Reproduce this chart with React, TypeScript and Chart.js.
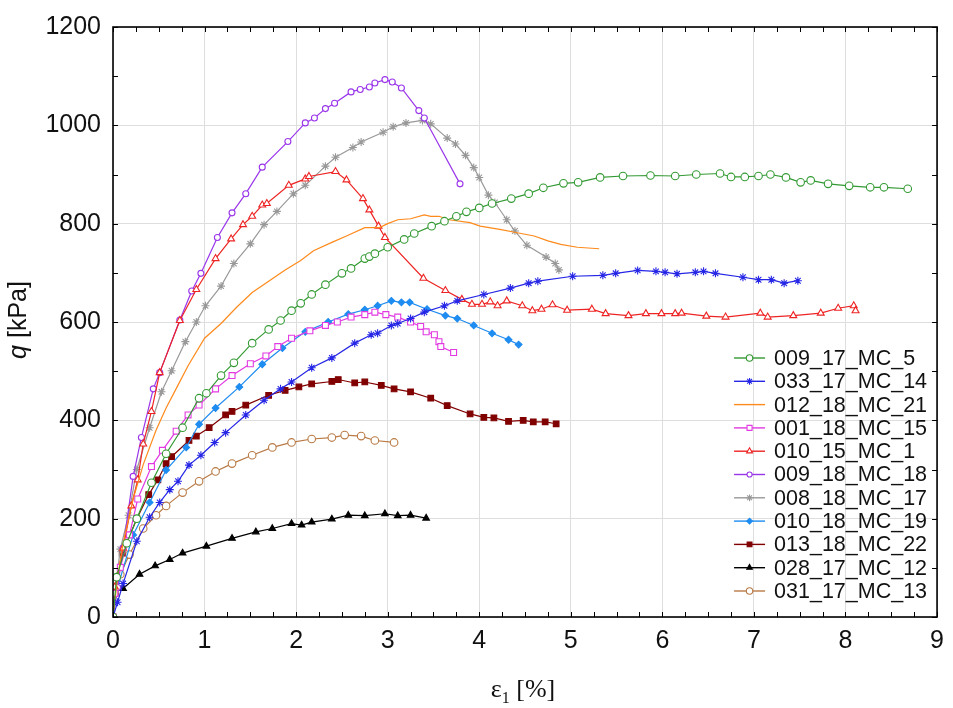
import { useEffect, useRef } from "react";
import { Chart, ChartDataset, Plugin, registerables } from "chart.js";
import { drawPoint } from "chart.js/helpers";

Chart.register(...registerables);

type Pt = [number, number];

// strain eps1 [%], deviator stress q [kPa]
const s009_17_MC_5: Pt[] = [
  [0, 0], [0.04, 81], [0.15, 150], [0.26, 200], [0.42, 273], [0.58, 332], [0.76, 385], [0.94, 445],
  [1.02, 455], [1.18, 491], [1.32, 517], [1.52, 557], [1.7, 585], [1.83, 603], [1.95, 623], [2.05, 638],
  [2.17, 656], [2.32, 676], [2.5, 699], [2.6, 709], [2.75, 729], [2.8, 733], [2.86, 739], [3.0, 752],
  [3.18, 768], [3.29, 780], [3.48, 795], [3.62, 805], [3.75, 815], [3.86, 824], [4.0, 832], [4.14, 841],
  [4.35, 851], [4.54, 861], [4.7, 873], [4.92, 882], [5.08, 884], [5.32, 894], [5.57, 897], [5.87, 898],
  [6.14, 897], [6.37, 900], [6.63, 902], [6.75, 895], [6.9, 895], [7.05, 897], [7.18, 900], [7.35, 894],
  [7.51, 884], [7.62, 888], [7.81, 881], [8.04, 877], [8.27, 874], [8.42, 874], [8.68, 871],
];
const s033_17_MC_14: Pt[] = [
  [0, 0], [0.05, 30], [0.11, 68], [0.26, 154], [0.4, 203], [0.51, 233], [0.62, 259], [0.71, 276],
  [0.83, 309], [0.96, 329], [1.11, 355], [1.23, 375], [1.45, 411], [1.65, 441], [1.83, 464], [1.95, 478],
  [2.17, 507], [2.39, 527], [2.64, 557], [2.82, 574], [2.89, 577], [3.04, 593], [3.11, 597], [3.25, 607],
  [3.4, 620], [3.62, 633], [3.76, 643], [4.05, 656], [4.34, 669], [4.54, 679], [4.64, 683], [5.02, 693],
  [5.35, 695], [5.49, 699], [5.73, 705], [5.93, 703], [6.03, 701], [6.16, 698], [6.36, 701], [6.45, 703],
  [6.58, 699], [6.88, 691], [7.05, 686], [7.19, 686], [7.33, 679], [7.48, 684],
];
const s012_18_MC_21: Pt[] = [
  [0, 0], [0.05, 80], [0.11, 150], [0.22, 240], [0.33, 310], [0.47, 380], [0.58, 425], [0.7, 468],
  [0.82, 511], [1.0, 567], [1.18, 597], [1.35, 630], [1.52, 660], [1.7, 683], [1.88, 706], [2.05, 725],
  [2.19, 745], [2.39, 762], [2.55, 775], [2.75, 792], [2.91, 792], [3.0, 800], [3.11, 808], [3.25, 810],
  [3.4, 818], [3.47, 815], [3.56, 815], [3.67, 808], [3.9, 802], [4.01, 795], [4.24, 788], [4.4, 782],
  [4.6, 775], [4.75, 765], [4.89, 758], [5.07, 752], [5.31, 749],
];
const s001_18_MC_15: Pt[] = [
  [0, 0], [0.02, 48], [0.08, 101], [0.18, 167], [0.27, 240], [0.42, 306], [0.54, 339], [0.69, 378],
  [0.82, 411], [0.94, 431], [1.12, 464], [1.3, 491], [1.5, 515], [1.67, 531], [1.8, 550], [1.95, 567],
  [2.15, 582], [2.32, 593], [2.45, 600], [2.6, 610], [2.75, 615], [2.86, 620], [2.98, 615], [3.11, 610],
  [3.25, 600], [3.36, 591], [3.42, 580], [3.51, 574], [3.56, 560], [3.58, 550], [3.72, 538],
];
const s010_15_MC_1: Pt[] = [
  [0, 0], [0.02, 61], [0.11, 140], [0.2, 226], [0.27, 279], [0.33, 352], [0.42, 418], [0.51, 497],
  [0.73, 603], [0.91, 666], [1.12, 729], [1.29, 769], [1.42, 798], [1.52, 815], [1.63, 838], [1.68, 841],
  [1.92, 878], [2.1, 891], [2.14, 896], [2.43, 906], [2.55, 889], [2.73, 851], [2.8, 828], [2.9, 795],
  [2.97, 772], [3.39, 689], [3.63, 664], [3.81, 646], [3.92, 636], [4.03, 636], [4.12, 641], [4.2, 633],
  [4.3, 643], [4.47, 633], [4.58, 623], [4.68, 626], [4.8, 635], [4.96, 624], [5.23, 626], [5.38, 617],
  [5.63, 613], [5.82, 617], [5.99, 617], [6.14, 617], [6.21, 618], [6.48, 612], [6.69, 610], [7.07, 618],
  [7.15, 610], [7.43, 613], [7.73, 618], [7.92, 628], [8.09, 633], [8.11, 623],
];
const s009_18_MC_18: Pt[] = [
  [0, 0], [0.05, 60], [0.11, 140], [0.22, 286], [0.31, 365], [0.44, 464], [0.51, 497], [0.73, 604],
  [0.86, 663], [0.96, 699], [1.14, 772], [1.3, 822], [1.45, 861], [1.63, 915], [1.91, 967], [2.1, 1005],
  [2.2, 1015], [2.32, 1034], [2.42, 1045], [2.6, 1068], [2.7, 1073], [2.8, 1078], [2.86, 1086], [2.97, 1093],
  [3.05, 1088], [3.15, 1076], [3.34, 1030], [3.4, 1015], [3.79, 881],
];
const s008_18_MC_17: Pt[] = [
  [0, 0], [0.02, 50], [0.08, 138], [0.17, 207], [0.26, 300], [0.4, 385], [0.53, 458], [0.64, 501],
  [0.79, 560], [0.91, 600], [1.01, 633], [1.18, 673], [1.32, 719], [1.5, 759], [1.65, 798], [1.79, 825],
  [1.97, 861], [2.1, 878], [2.32, 917], [2.43, 935], [2.62, 955], [2.71, 966], [2.95, 986], [3.06, 997],
  [3.2, 1005], [3.38, 1010], [3.47, 1003], [3.65, 974], [3.74, 962], [3.85, 939], [3.94, 914], [4.0, 894],
  [4.1, 858], [4.17, 843], [4.3, 808], [4.39, 785], [4.52, 756], [4.73, 732], [4.83, 719], [4.87, 706],
];
const s010_18_MC_19: Pt[] = [
  [0, 0], [0.05, 60], [0.22, 167], [0.4, 233], [0.58, 299], [0.8, 345], [0.94, 392], [1.12, 425],
  [1.38, 468], [1.63, 514], [1.85, 547], [2.1, 580], [2.35, 600], [2.57, 616], [2.75, 625], [2.89, 633],
  [3.04, 643], [3.15, 640], [3.24, 640], [3.43, 626], [3.63, 613], [3.76, 607], [3.94, 593], [4.14, 577],
  [4.32, 564], [4.43, 554],
];
const s013_18_MC_22: Pt[] = [
  [0, 0], [0.02, 48], [0.1, 130], [0.26, 200], [0.39, 249], [0.49, 279], [0.58, 312], [0.64, 326],
  [0.83, 359], [0.91, 368], [1.05, 385], [1.23, 411], [1.3, 418], [1.45, 431], [1.7, 451], [1.88, 461],
  [2.03, 468], [2.17, 474], [2.39, 479], [2.46, 483], [2.64, 476], [2.75, 478], [2.93, 471], [3.07, 464],
  [3.25, 458], [3.47, 445], [3.65, 430], [3.9, 413], [4.05, 406], [4.16, 405], [4.32, 398], [4.48, 400],
  [4.59, 397], [4.72, 397], [4.84, 393],
];
const s028_17_MC_12: Pt[] = [
  [0.11, 58], [0.29, 87], [0.46, 104], [0.62, 117], [0.76, 130], [1.02, 144], [1.3, 160], [1.56, 173],
  [1.74, 180], [1.95, 190], [2.06, 187], [2.17, 193], [2.39, 199], [2.57, 207], [2.75, 206], [2.97, 210],
  [3.11, 206], [3.25, 207], [3.42, 201],
];
const s031_17_MC_13: Pt[] = [
  [0, 0], [0.02, 48], [0.08, 87], [0.18, 127], [0.33, 180], [0.47, 207], [0.58, 226], [0.76, 253],
  [0.94, 276], [1.12, 296], [1.3, 312], [1.52, 329], [1.74, 345], [1.95, 355], [2.17, 362], [2.39, 365],
  [2.53, 370], [2.71, 368], [2.86, 359], [3.07, 355],
];

const xTicks = [0, 1, 2, 3, 4, 5, 6, 7, 8, 9];
const yTicks = [0, 200, 400, 600, 800, 1000, 1200];
const xMinorStep = 0.25;
const yMinorStep = 100;

interface SeriesStyle {
  label: string;
  data: Pt[];
  color: string;
  marker: string | false;
  filled: boolean;
  radius: number;
}

const series: SeriesStyle[] = [
  { label: "009_17_MC_5", data: s009_17_MC_5, color: "#339a33", marker: "circle", filled: false, radius: 3.8 },
  { label: "033_17_MC_14", data: s033_17_MC_14, color: "#2626e6", marker: "star", filled: false, radius: 4 },
  { label: "012_18_MC_21", data: s012_18_MC_21, color: "#ff8a1c", marker: false, filled: false, radius: 0 },
  { label: "001_18_MC_15", data: s001_18_MC_15, color: "#e23ae2", marker: "rect", filled: false, radius: 4.2 },
  { label: "010_15_MC_1", data: s010_15_MC_1, color: "#ee2424", marker: "triangle", filled: false, radius: 4 },
  { label: "009_18_MC_18", data: s009_18_MC_18, color: "#9a36ea", marker: "circle", filled: false, radius: 3 },
  { label: "008_18_MC_17", data: s008_18_MC_17, color: "#999999", marker: "star", filled: false, radius: 4 },
  { label: "010_18_MC_19", data: s010_18_MC_19, color: "#1e8cf0", marker: "rectRot", filled: true, radius: 3.4 },
  { label: "013_18_MC_22", data: s013_18_MC_22, color: "#800000", marker: "rect", filled: true, radius: 4 },
  { label: "028_17_MC_12", data: s028_17_MC_12, color: "#000000", marker: "triangle", filled: true, radius: 3.8 },
  { label: "031_17_MC_13", data: s031_17_MC_13, color: "#b97a45", marker: "circle", filled: false, radius: 3.8 },
];

const frameAndTicks: Plugin = {
  id: "frameAndTicks",
  afterDatasetsDraw(chart) {
    const { ctx, chartArea: a, scales } = chart;
    const xs = scales.x;
    const ys = scales.y;
    ctx.save();
    ctx.strokeStyle = "#000";
    ctx.lineWidth = 1;
    ctx.beginPath();
    for (let i = 0; i * xMinorStep <= 9 + 1e-9; i++) {
      const px = Math.round(xs.getPixelForValue(i * xMinorStep)) + 0.5;
      ctx.moveTo(px, a.bottom);
      ctx.lineTo(px, a.bottom - 5);
      ctx.moveTo(px, a.top);
      ctx.lineTo(px, a.top + 5);
    }
    for (let i = 0; i * yMinorStep <= 1200; i++) {
      const py = Math.round(ys.getPixelForValue(i * yMinorStep)) + 0.5;
      ctx.moveTo(a.left, py);
      ctx.lineTo(a.left + 5, py);
      ctx.moveTo(a.right, py);
      ctx.lineTo(a.right - 5, py);
    }
    ctx.stroke();
    ctx.lineWidth = 1.6;
    ctx.strokeRect(a.left, a.top, a.right - a.left, a.bottom - a.top);
    ctx.restore();
  },
};

const titlesAndLegend: Plugin = {
  id: "titlesAndLegend",
  afterDraw(chart) {
    const { ctx, chartArea: a } = chart;
    ctx.save();
    ctx.fillStyle = "#111";
    ctx.textBaseline = "alphabetic";

    // y title: italic q + [kPa]
    const cy = (a.top + a.bottom) / 2 - 2;
    ctx.translate(26, cy);
    ctx.rotate(-Math.PI / 2);
    ctx.font = "italic 25px 'Liberation Sans', Arial, sans-serif";
    const wq = ctx.measureText("q").width;
    ctx.font = "25px 'Liberation Sans', Arial, sans-serif";
    const wr = ctx.measureText(" [kPa]").width;
    let x0 = -(wq + wr) / 2;
    ctx.font = "italic 25px 'Liberation Sans', Arial, sans-serif";
    ctx.fillText("q", x0, 0);
    ctx.font = "25px 'Liberation Sans', Arial, sans-serif";
    ctx.fillText(" [kPa]", x0 + wq, 0);
    ctx.setTransform(1, 0, 0, 1, 0, 0);
    const dpr = chart.currentDevicePixelRatio;
    ctx.scale(dpr, dpr);

    // x title: eps_1 [%]
    const serif = "'Liberation Serif', 'Times New Roman', serif";
    ctx.font = `26px ${serif}`;
    const we = ctx.measureText("ε").width;
    const rest = " [%]";
    const wrest = ctx.measureText(rest).width;
    ctx.font = `16px ${serif}`;
    const w1 = ctx.measureText("1").width;
    const total = we + w1 + wrest;
    x0 = (a.left + a.right) / 2 - total / 2 - 2;
    const by = 697;
    ctx.font = `26px ${serif}`;
    ctx.fillText("ε", x0, by);
    ctx.font = `16px ${serif}`;
    ctx.fillText("1", x0 + we, by + 6);
    ctx.font = `26px ${serif}`;
    ctx.fillText(rest, x0 + we + w1, by);

    // legend
    const lx = a.right - 203;
    const ly = a.top + 331;
    const step = 23.3;
    ctx.font = "21.5px 'Liberation Sans', Arial, sans-serif";
    ctx.textBaseline = "middle";
    series.forEach((s, i) => {
      const y = ly + i * step;
      ctx.strokeStyle = s.color;
      ctx.lineWidth = 1.4;
      ctx.beginPath();
      ctx.moveTo(lx, y);
      ctx.lineTo(lx + 31, y);
      ctx.stroke();
      if (s.marker) {
        ctx.fillStyle = s.filled ? s.color : "#ffffff";
        ctx.lineWidth = 1.1;
        drawPoint(ctx, { pointStyle: s.marker as any, radius: s.radius * 0.85, rotation: 0, borderWidth: 1.1 }, lx + 15.5, y);
      }
      ctx.fillStyle = "#111";
      ctx.fillText(s.label, lx + 40, y + 1);
    });
    ctx.restore();
  },
};

export default function App() {
  const canvasRef = useRef<HTMLCanvasElement>(null);
  const chartInstance = useRef<Chart | null>(null);

  useEffect(() => {
    document.body.style.margin = "0";
    if (!canvasRef.current) return;
    if (chartInstance.current) chartInstance.current.destroy();

    const datasets: ChartDataset<"scatter">[] = series.map((s) => ({
      label: s.label,
      data: s.data.map(([x, y]) => ({ x, y })),
      showLine: true,
      borderColor: s.color,
      borderWidth: 1.2,
      backgroundColor: s.filled ? s.color : "#ffffff",
      pointStyle: s.marker === false ? false : (s.marker as any),
      pointRadius: s.radius,
      pointBorderColor: s.color,
      pointBackgroundColor: s.filled ? s.color : "#ffffff",
      pointBorderWidth: 1.1,
      tension: 0,
    }));

    const tickFont = { family: "'Liberation Sans', Arial, sans-serif", size: 25 };

    chartInstance.current = new Chart(canvasRef.current, {
      type: "scatter",
      data: { datasets },
      options: {
        responsive: true,
        maintainAspectRatio: false,
        animation: false,
        layout: { padding: { left: 0, right: 14, top: 13, bottom: 0 } },
        plugins: { legend: { display: false }, tooltip: { enabled: false } },
        scales: {
          x: {
            type: "linear",
            min: 0,
            max: 9,
            afterBuildTicks: (scale) => {
              scale.ticks = xTicks.map((v) => ({ value: v }));
            },
            afterFit: (scale) => {
              scale.height = 91;
            },
            grid: { color: "#dedede", lineWidth: 1, drawTicks: false },
            border: { display: false },
            ticks: { color: "#111", font: tickFont, padding: 9, maxRotation: 0, callback: (v) => String(v) },
          },
          y: {
            type: "linear",
            min: 0,
            max: 1200,
            afterBuildTicks: (scale) => {
              scale.ticks = yTicks.map((v) => ({ value: v }));
            },
            afterFit: (scale) => {
              scale.width = 113;
            },
            grid: { color: "#dedede", lineWidth: 1, drawTicks: false },
            border: { display: false },
            ticks: { color: "#111", font: tickFont, padding: 12, callback: (v) => String(v) },
          },
        },
      },
      plugins: [frameAndTicks, titlesAndLegend],
    });

    return () => {
      if (chartInstance.current) {
        chartInstance.current.destroy();
        chartInstance.current = null;
      }
    };
  }, []);

  return (
    <div style={{ position: "absolute", left: 0, top: 0, width: 953, height: 708, background: "#fff" }}>
      <canvas ref={canvasRef}></canvas>
    </div>
  );
}
